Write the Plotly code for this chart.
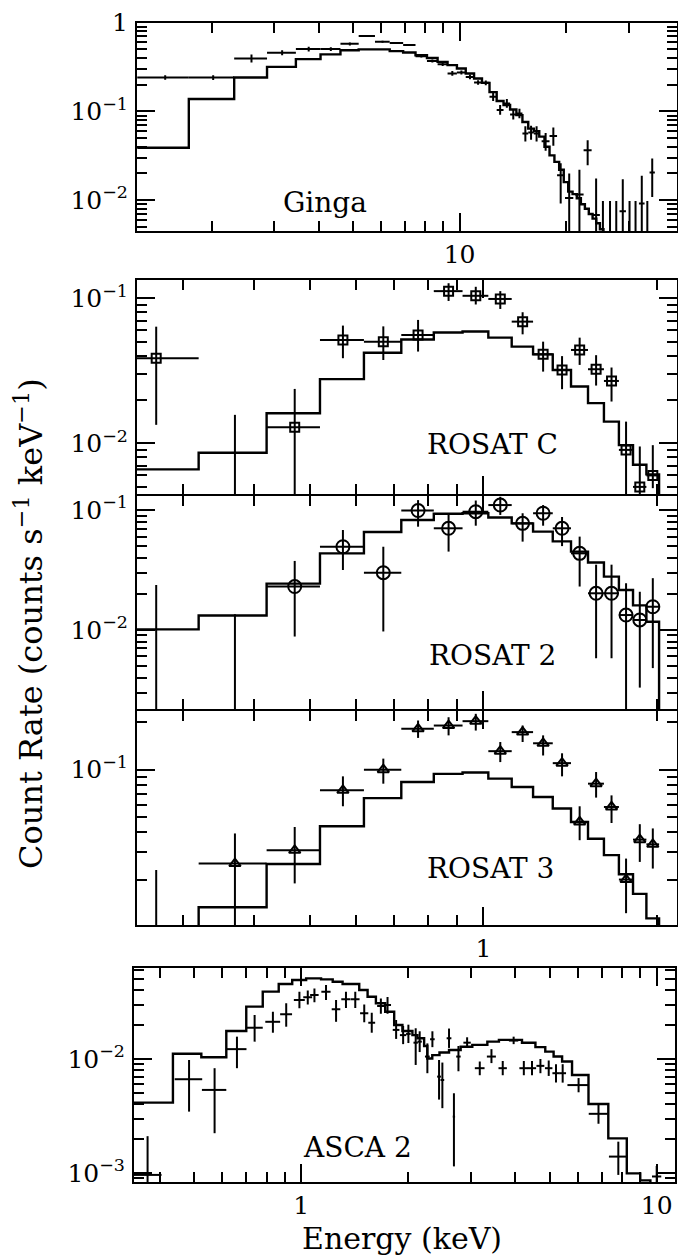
import plotly.graph_objects as go

W, H = 678, 1256
FONT = "DejaVu Serif"

# ---------------- Ginga ----------------
ginga_edges = [1.23, 1.72, 2.31, 2.86, 3.45, 4.05, 4.61, 5.19, 5.77, 6.35, 6.93, 7.51, 8.09, 8.67,
               9.25, 9.83, 10.41, 10.99, 11.57, 12.15, 12.73, 13.31, 13.89, 14.47, 15.05, 15.63,
               16.21, 16.79, 17.37, 17.95, 18.53, 19.11, 19.69, 20.27, 20.85, 21.43, 22.01, 22.59,
               23.17, 23.75, 24.33, 24.91, 25.49]
ginga_model = [0.039, 0.138, 0.241, 0.318, 0.389, 0.44, 0.49, 0.50, 0.50, 0.478, 0.462, 0.43, 0.40,
               0.362, 0.333, 0.305, 0.268, 0.235, 0.21, 0.165, 0.131, 0.118, 0.105, 0.091, 0.076,
               0.064, 0.060, 0.052, 0.040, 0.032, 0.027, 0.022, 0.016, 0.0125, 0.0117, 0.0105,
               0.0090, 0.0080, 0.0070, 0.0062, 0.0055, 0.0047]
ginga_e = [1.475, 2.015, 2.585, 3.155, 3.75, 4.33, 4.90, 5.48, 6.06, 6.64, 7.22, 7.80, 8.38, 8.96,
           9.54, 10.12, 10.70, 11.28, 11.86, 12.44, 13.02, 13.60, 14.18, 14.76, 15.34, 15.92,
           16.50, 17.5, 18.4, 19.3, 20.4, 21.8, 23.0, 24.3, 25.4, 26.6, 27.7, 28.9, 30.2, 31.4,
           32.7, 33.9, 35.0]
ginga_de = [0.245, 0.295, 0.275, 0.295, 0.30, 0.28, 0.29, 0.29, 0.29, 0.29, 0.29, 0.29, 0.29, 0.29,
            0.29, 0.29, 0.29, 0.29, 0.29, 0.29, 0.29, 0.29, 0.29, 0.29, 0.29, 0.29,
            0.29, 0.45, 0.45, 0.45, 0.55, 0.6, 0.6, 0.6, 0.0, 0.0, 0.0, 0.6, 0.0, 0.0,
            0.6, 0.0, 0.6]
ginga_v = [0.241, 0.241, 0.396, 0.458, 0.504, 0.504, 0.578, 0.707, 0.61, 0.59, 0.56, 0.42, 0.37, 0.34,
           0.268, 0.275, 0.245, 0.212, 0.21, 0.146, 0.104, 0.123, 0.0925, 0.095, 0.0565, 0.058,
           0.0565, 0.0462, 0.053, 0.0191, 0.0106, 0.0116, 0.0366, 0.0068, 0.002, 0.002, 0.002,
           0.0075, 0.002, 0.002, 0.0092, 0.002, 0.0205]
ginga_hi = [0.255, 0.256, 0.437, 0.49, 0.535, 0.53, 0.60, 0.725, 0.625, 0.605, 0.575, 0.435, 0.385,
            0.355, 0.285, 0.29, 0.26, 0.225, 0.223, 0.162, 0.118, 0.138, 0.105, 0.107, 0.068, 0.069,
            0.068, 0.057, 0.066, 0.026, 0.020, 0.022, 0.0475, 0.0176, 0.0098, 0.0098, 0.0098,
            0.0172, 0.0098, 0.0098, 0.0188, 0.0098, 0.0295]
ginga_lo = [0.228, 0.226, 0.357, 0.43, 0.475, 0.48, 0.555, 0.69, 0.595, 0.575, 0.545, 0.405, 0.355,
            0.325, 0.252, 0.26, 0.23, 0.20, 0.197, 0.131, 0.092, 0.11, 0.081, 0.084, 0.046, 0.048,
            0.046, 0.036, 0.041, 0.0092, 0.003, 0.003, 0.0248, 0.001, 0.001, 0.001, 0.001,
            0.001, 0.001, 0.001, 0.001, 0.001, 0.0109]

# ---------------- ROSAT (0.1 keV bins) ----------------
rosat_edges = [0.22, 0.32, 0.42, 0.52, 0.62, 0.72, 0.82, 0.92, 1.02, 1.12, 1.22, 1.32, 1.42,
               1.52, 1.62, 1.72, 1.82, 1.92, 2.02]
rosat_e = [0.27, 0.37, 0.47, 0.57, 0.67, 0.77, 0.87, 0.97, 1.07, 1.17, 1.27, 1.37, 1.47, 1.57,
           1.67, 1.77, 1.87, 1.97]
rosat_de = [0.05] * 18

rosc_model = [0.0066, 0.0086, 0.0161, 0.0277, 0.0421, 0.052, 0.058, 0.059, 0.0535, 0.0464, 0.041,
              0.032, 0.0246, 0.0189, 0.0141, 0.0097, 0.0071, 0.0061]
rosc_v = [0.0385, 0.002, 0.0129, 0.0516, 0.0502, 0.0558, 0.112, 0.104, 0.0989, 0.069, 0.0411,
          0.032, 0.044, 0.0324, 0.0269, 0.009, 0.0050, 0.0060]
rosc_hi = [0.0637, 0.0157, 0.0237, 0.0648, 0.064, 0.0709, 0.127, 0.12, 0.112, 0.0801, 0.0502,
           0.0399, 0.0535, 0.0405, 0.0333, 0.0141, 0.0095, 0.0097]
rosc_lo = [0.0134, 0.001, 0.002, 0.0386, 0.0375, 0.0429, 0.0958, 0.0906, 0.0844, 0.0564, 0.0312,
           0.0236, 0.0347, 0.025, 0.0194, 0.002, 0.003, 0.0049]

ros2_model = [0.0101, 0.0132, 0.0243, 0.0435, 0.0655, 0.0825, 0.093, 0.094, 0.0865, 0.0774, 0.066,
              0.0548, 0.045, 0.0365, 0.0278, 0.0215, 0.0160, 0.0117]
ros2_v = [0.001, 0.001, 0.023, 0.0494, 0.030, 0.099, 0.0704, 0.0968, 0.11, 0.0774, 0.094, 0.0704,
          0.0435, 0.0202, 0.0202, 0.0133, 0.0121, 0.0156]
ros2_hi = [0.0237, 0.0135, 0.0376, 0.0681, 0.0494, 0.121, 0.094, 0.12, 0.129, 0.094, 0.11, 0.0875,
           0.06, 0.035, 0.035, 0.0245, 0.0208, 0.027]
ros2_lo = [0.0005, 0.0005, 0.0088, 0.0316, 0.0097, 0.0726, 0.045, 0.074, 0.091, 0.0545, 0.074,
           0.05, 0.023, 0.0058, 0.0058, 0.001, 0.0033, 0.0048]

ros3_model = [0.0095, 0.0134, 0.0252, 0.0438, 0.066, 0.0835, 0.094, 0.096, 0.0877, 0.0776, 0.0671,
              0.0567, 0.0466, 0.0365, 0.0287, 0.0217, 0.0163, 0.0114]
ros3_v = [0.005, 0.0254, 0.0308, 0.074, 0.1, 0.1815, 0.1905, 0.203, 0.131, 0.173, 0.147, 0.110,
          0.0466, 0.0815, 0.058, 0.0201, 0.036, 0.0336]
ros3_hi = [0.0231, 0.0394, 0.0433, 0.0907, 0.1175, 0.205, 0.215, 0.226, 0.1497, 0.1905, 0.165,
           0.127, 0.0586, 0.0966, 0.0687, 0.0273, 0.0451, 0.0424]
ros3_lo = [0.002, 0.003, 0.019, 0.0586, 0.0815, 0.159, 0.165, 0.177, 0.1117, 0.1497, 0.123, 0.0907,
           0.0357, 0.0665, 0.0459, 0.0123, 0.026, 0.0236]

# ---------------- ASCA 2 ----------------
asca_edges = [0.30, 0.436, 0.524, 0.616, 0.701, 0.78, 0.865, 0.944, 1.033, 1.138, 1.227, 1.308,
              1.457, 1.538, 1.623, 1.724, 1.827, 1.927, 2.056, 2.124, 2.218, 2.264, 2.338, 2.45,
              2.606, 2.81, 3.03, 3.34, 3.6, 3.96, 4.18, 4.56, 4.86, 5.13, 5.42, 5.78, 6.43, 7.31,
              8.24, 8.99, 9.6]
asca_model = [0.00414, 0.0111, 0.01035, 0.0176, 0.0288, 0.039, 0.0455, 0.0493, 0.051, 0.050,
              0.0477, 0.0455, 0.0403, 0.0352, 0.0308, 0.026, 0.0199, 0.0176, 0.0162, 0.0152,
              0.013, 0.0101, 0.0108, 0.0114, 0.012, 0.0128, 0.0133, 0.0142, 0.0147, 0.0147,
              0.0139, 0.0127, 0.0116, 0.0105, 0.0095, 0.00724, 0.00403, 0.00201, 0.00099, 0.00086]
asca_e = [0.37, 0.484, 0.571, 0.66, 0.74, 0.833, 0.908, 0.989, 1.044, 1.09, 1.175, 1.254, 1.337,
          1.42, 1.505, 1.58, 1.676, 1.75, 1.85, 1.936, 2.003, 2.10, 2.155, 2.265, 2.34, 2.443,
          2.496, 2.606, 2.69, 2.77, 2.93, 3.18, 3.43, 3.69, 3.96, 4.23, 4.46, 4.71, 4.97, 5.21,
          5.44, 6.03, 6.86, 7.8, 10.0]
asca_de = [0.035, 0.043, 0.045, 0.042, 0.04, 0.04, 0.035, 0.035, 0.03, 0.03, 0.035, 0.035, 0.04,
           0.04, 0.04, 0.035, 0.04, 0.04, 0.04, 0.04, 0.03, 0.03, 0.03, 0.035, 0.035, 0.03,
           0.03, 0.04, 0.02, 0.04, 0.07, 0.1, 0.1, 0.1, 0.12, 0.12, 0.12, 0.12, 0.12, 0.12,
           0.12, 0.42, 0.42, 0.46, 0.3]
asca_v = [0.00096, 0.00664, 0.00535, 0.0122, 0.0188, 0.0212, 0.0247, 0.033, 0.0348, 0.0364, 0.0389,
          0.0273, 0.0334, 0.0334, 0.0252, 0.0208, 0.0292, 0.0298, 0.018, 0.0162, 0.0166, 0.0139,
          0.0142, 0.0105, 0.0149, 0.0070, 0.00654, 0.0152, 0.00312, 0.0105, 0.0139, 0.0083,
          0.0105, 0.0083, 0.0145, 0.0083, 0.0083, 0.0087, 0.0083, 0.0075, 0.0075, 0.0059, 0.0033,
          0.00139, 0.00093]
asca_hi = [0.0021, 0.0098, 0.0083, 0.0157, 0.0243, 0.026, 0.0308, 0.0389, 0.040, 0.0415, 0.0446,
           0.033, 0.039, 0.039, 0.030, 0.0255, 0.034, 0.035, 0.022, 0.0195, 0.020, 0.0186,
           0.0175, 0.0137, 0.0175, 0.0098, 0.0093, 0.0185, 0.0050, 0.013, 0.0155, 0.0095,
           0.0122, 0.0096, 0.0157, 0.0096, 0.0096, 0.010, 0.0097, 0.009, 0.009, 0.0068, 0.0040,
           0.00188, 0.00115]
asca_lo = [0.0005, 0.00345, 0.00223, 0.0083, 0.0142, 0.017, 0.0192, 0.0279, 0.030, 0.0315, 0.033,
           0.0212, 0.028, 0.028, 0.021, 0.017, 0.025, 0.025, 0.015, 0.0135, 0.0138, 0.00886,
           0.0115, 0.0075, 0.0127, 0.0044, 0.0037, 0.0125, 0.00114, 0.0078, 0.0125, 0.0072,
           0.0092, 0.0072, 0.0135, 0.0072, 0.0072, 0.0075, 0.0071, 0.0062, 0.0062, 0.0051, 0.0027,
           0.00096, 0.0007]

# ---------------- tick labels ----------------
ginga_yticks = [1, 0.1, 0.01]
ginga_ytext = ["1", "10<sup>\u22121</sup>", "10<sup>\u22122</sup>"]
ginga_xticks = [10]
ginga_xtext = ["10"]
rosat_yticks = [0.1, 0.01]
rosat_ytext = ["10<sup>\u22121</sup>", "10<sup>\u22122</sup>"]
ros3_yticks = [0.1]
ros3_ytext = ["10<sup>\u22121</sup>"]
rosat_xticks = [1]
rosat_xtext = ["1"]
asca_yticks = [0.01, 0.001]
asca_ytext = ["10<sup>\u22122</sup>", "10<sup>\u22123</sup>"]
asca_xticks = [1, 10]
asca_xtext = ["1", "10"]


def minors(lo_dec, hi_dec):
    out = []
    for d in range(lo_dec, hi_dec + 1):
        for m in range(2, 10):
            out.append(m * 10.0 ** d)
    return out


def step_xy(edges, vals, drop):
    x = list(edges) + [edges[-1]]
    y = list(vals) + [vals[-1], drop]
    return x, y


fig = go.Figure()

panels = [
    ("", ginga_edges, ginga_model, ginga_e, ginga_de, ginga_v, ginga_hi, ginga_lo, None, 0),
    ("2", rosat_edges, rosc_model, rosat_e, rosat_de, rosc_v, rosc_hi, rosc_lo, "square-open", 9),
    ("3", rosat_edges, ros2_model, rosat_e, rosat_de, ros2_v, ros2_hi, ros2_lo, "circle-open", 13),
    ("4", rosat_edges, ros3_model, rosat_e, rosat_de, ros3_v, ros3_hi, ros3_lo, "triangle-up-open", 10),
    ("5", asca_edges, asca_model, asca_e, asca_de, asca_v, asca_hi, asca_lo, None, 0),
]

for suf, edges, model, e, de, v, hi, lo, sym, size in panels:
    xa, ya = "x" + suf, "y" + suf
    mx, my = step_xy(edges, model, 1e-5)
    fig.add_trace(go.Scatter(x=mx, y=my, mode="lines", xaxis=xa, yaxis=ya,
                             line=dict(shape="hv", color="black", width=2.4),
                             hoverinfo="skip"))
    marker = dict(symbol=sym, size=size, color="black", line=dict(width=2, color="black")) if sym \
        else dict(size=1, color="rgba(0,0,0,0)")
    fig.add_trace(go.Scatter(
        x=e, y=v, mode="markers", xaxis=xa, yaxis=ya, marker=marker,
        error_x=dict(type="data", array=de, width=0, thickness=2, color="black"),
        error_y=dict(type="data", symmetric=False,
                     array=[h - a for h, a in zip(hi, v)],
                     arrayminus=[a - l for a, l in zip(v, lo)],
                     width=0, thickness=2, color="black"),
        hoverinfo="skip"))

tickfont = dict(family=FONT, size=25, color="black")


def axis_common():
    return dict(type="log", showline=True, linewidth=2, linecolor="black", mirror="ticks",
                ticks="inside", ticklen=18, tickwidth=2, tickcolor="black", automargin=False,
                showgrid=False, zeroline=False, tickfont=tickfont, tickmode="array")


def xdom(l, r):
    return [l / W, r / W]


def ydom(top, bot):
    return [1 - bot / H, 1 - top / H]


# panel frames in pixels (lines are drawn just outside, so shared borders are offset by 1px)
dom = {
    "": ((137, 677), (22.7, 231)),
    "2": ((137, 677), (280, 494)),
    "3": ((137, 677), (496, 709)),
    "4": ((137, 677), (711, 925)),
    "5": ((134, 675), (968.3, 1182)),
}
xranges = {
    "": [0.0892, 1.614],
    "2": [-0.602, 0.3365], "3": [-0.602, 0.3365], "4": [-0.602, 0.3365],
    "5": [-0.470, 1.0515],
}
yranges = {
    "": [-2.347, 0.0],
    "2": [-2.35, -0.874],
    "3": [-2.66, -0.883],
    "4": [-1.985, -0.628],
    "5": [-3.08, -1.204],
}
xtick = {
    "": (ginga_xticks, ginga_xtext, [2, 3, 4, 5, 6, 7, 8, 9, 20, 30], True),
    "2": (rosat_xticks, rosat_xtext, [0.3, 0.4, 0.5, 0.6, 0.7, 0.8, 0.9, 2], False),
    "3": (rosat_xticks, rosat_xtext, [0.3, 0.4, 0.5, 0.6, 0.7, 0.8, 0.9, 2], False),
    "4": (rosat_xticks, rosat_xtext, [0.3, 0.4, 0.5, 0.6, 0.7, 0.8, 0.9, 2], True),
    "5": (asca_xticks, asca_xtext, [0.4, 0.5, 0.6, 0.7, 0.8, 0.9, 2, 3, 4, 5, 6, 7, 8, 9], True),
}
ytick = {
    "": (ginga_yticks, ginga_ytext, minors(-3, -1)),
    "2": (rosat_yticks, rosat_ytext, minors(-3, -2)),
    "3": (rosat_yticks, rosat_ytext, minors(-3, -2)),
    "4": (ros3_yticks, ros3_ytext, minors(-2, -1)),
    "5": (asca_yticks, asca_ytext, minors(-4, -2)),
}

layout = dict(width=W, height=H, margin=dict(l=0, r=0, t=0, b=0), template="none",
              paper_bgcolor="white", plot_bgcolor="white", showlegend=False)

for suf in ["", "2", "3", "4", "5"]:
    (xl, xr), (yt, yb) = dom[suf]
    xt, xtt, xm, showx = xtick[suf]
    yt_, ytt, ym = ytick[suf]
    xa = axis_common()
    xa.update(domain=xdom(xl, xr), range=xranges[suf], anchor="y" + suf,
              tickvals=xt, ticktext=xtt, showticklabels=showx, ticklabelstandoff=0,
              minor=dict(tickmode="array", tickvals=xm, ticks="inside", ticklen=10,
                         tickwidth=2, tickcolor="black", showgrid=False))
    ya = axis_common()
    ya.update(domain=ydom(yt, yb), range=yranges[suf], anchor="x" + suf,
              tickvals=yt_, ticktext=ytt, ticklabelstandoff=2,
              minor=dict(tickmode="array", tickvals=ym, ticks="inside", ticklen=10,
                         tickwidth=2, tickcolor="black", showgrid=False))
    layout["xaxis" + suf] = xa
    layout["yaxis" + suf] = ya

labfont = dict(family=FONT, size=28, color="black")
anns = []
for text, px, py in [("Ginga", 325, 203), ("ROSAT C", 492, 445), ("ROSAT 2", 492, 655),
                     ("ROSAT 3", 490, 868), ("ASCA 2", 357, 1147)]:
    anns.append(dict(text=text, x=px / W, y=1 - py / H, xref="paper", yref="paper",
                     showarrow=False, font=labfont, xanchor="center", yanchor="middle"))
anns.append(dict(text="Energy (keV)", x=402 / W, y=1 - 1238 / H, xref="paper", yref="paper",
                 showarrow=False, font=dict(family=FONT, size=30, color="black"),
                 xanchor="center", yanchor="middle"))
anns.append(dict(text="Count Rate (counts s<sup>\u22121</sup> keV<sup>\u22121</sup>)", x=29 / W,
                 y=1 - 624 / H, xref="paper", yref="paper", showarrow=False, textangle=-90,
                 font=dict(family=FONT, size=32, color="black"),
                 xanchor="center", yanchor="middle"))
layout["annotations"] = anns

fig.update_layout(**layout)
fig.write_html("out.html")
